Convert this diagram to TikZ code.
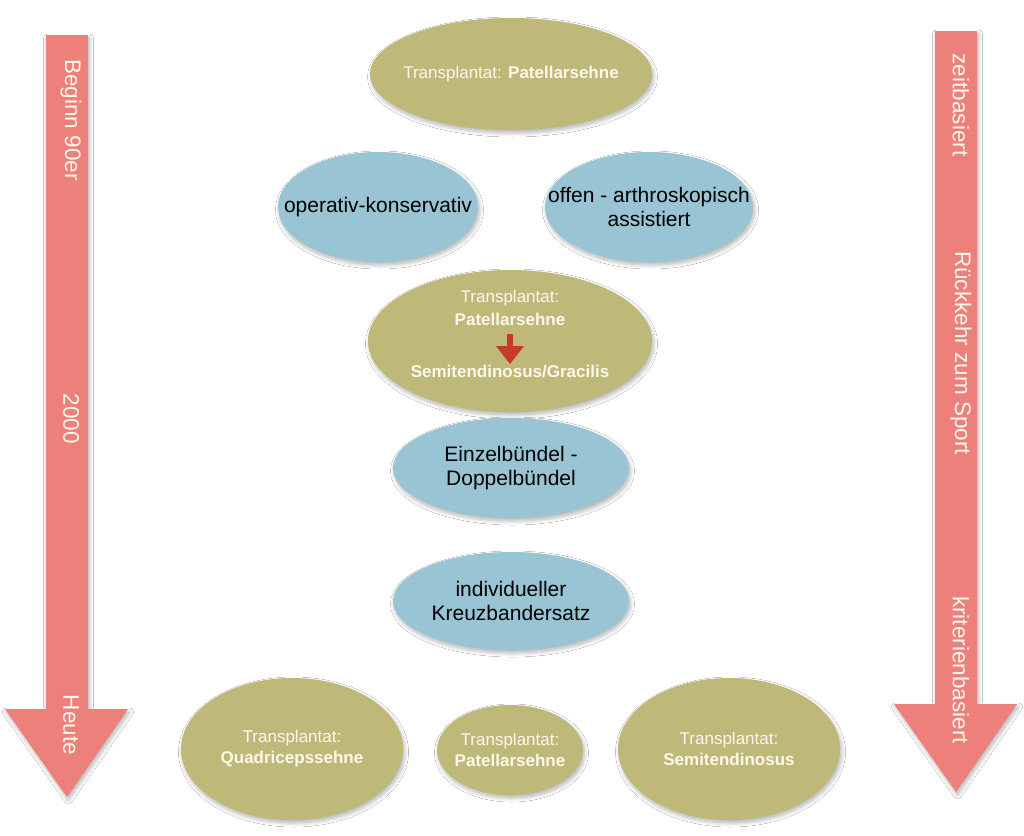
\documentclass[tikz,border=0pt]{standalone}
\usepackage{fontspec}
\setmainfont{Liberation Sans}
\usetikzlibrary{shapes.geometric,shadows.blur}
\definecolor{olive}{RGB}{190,185,121}
\definecolor{lblue}{RGB}{152,196,212}
\definecolor{pinkred}{RGB}{237,128,122}
\definecolor{darkred}{RGB}{196,58,44}
\definecolor{cream}{RGB}{252,248,236}
\tikzset{
  softshadow/.style={blur shadow={shadow xshift=1.5pt, shadow yshift=-3pt, shadow blur steps=8, shadow blur radius=4pt, shadow opacity=30}},
  oval/.style={ellipse, inner sep=0pt, softshadow},
  olivebox/.style={oval, fill=olive},
  bluebox/.style={oval, fill=lblue},
  oltext/.style={text=cream, font=\fontsize{17}{21}\selectfont, inner sep=0pt, align=center},
  bltext/.style={text=black, font=\fontsize{21}{24}\selectfont, inner sep=0pt, align=center},
  bigarrow/.style={fill=pinkred, softshadow},
  arrowtext/.style={rotate=-90, text=cream, font=\fontsize{22.5}{26}\selectfont, inner sep=0pt}
}
\begin{document}
\begin{tikzpicture}[x=1pt,y=-1pt]
\useasboundingbox (0,0) rectangle (1024,835);
\fill[white] (0,0) rectangle (1024,835);

% big arrows
\draw[bigarrow, draw=none] (46,35) -- (88,35) -- (88,709) -- (128,709) -- (67,797) -- (5,709) -- (46,709) -- cycle;
\draw[bigarrow, draw=none] (935,31) -- (977,31) -- (977,704) -- (1017,704) -- (956,792) -- (894,704) -- (935,704) -- cycle;

\node[arrowtext] (l1) at (71,120) {Beginn 90er};
\node[arrowtext] (l2) at (71,419) {2000};
\node[arrowtext] (l3) at (71,725) {Heute};
\node[arrowtext] (r1) at (961,105) {zeitbasiert};
\node[arrowtext] (r2) at (961,353) {Rückkehr zum Sport};
\node[arrowtext] (r3) at (961,670) {kriterienbasiert};

% ellipses
\node[olivebox, minimum width=282pt, minimum height=112pt] (top) at (511,74) {};
\node[oltext] (topt) at (top.center) {Transplantat: \textbf{Patellarsehne}};

\node[bluebox, minimum width=200pt, minimum height=110pt] (opk) at (378,207) {};
\node[bltext] (opkt) at (opk.center) {operativ-konservativ};

\node[bluebox, minimum width=208pt, minimum height=110pt] (off) at (649,207) {};
\node[bltext] (offt) at (off.center) {offen - arthroskopisch\\assistiert};

\node[olivebox, minimum width=284pt, minimum height=142pt] (mid) at (510,341) {};
\node[oltext] (m1) at (510,298) {Transplantat:};
\node[oltext] (m2) at (510,319) {\textbf{Patellarsehne}};
\node[oltext] (m3) at (510,372) {\textbf{Semitendinosus/Gracilis}};
\fill[darkred] (507,334) rectangle (513,347);
\fill[darkred] (496,346) -- (524,346) -- (510,364) -- cycle;

\node[bluebox, minimum width=236pt, minimum height=100pt] (ein) at (511,468) {};
\node[bltext] (eint) at (ein.center) {Einzelbündel -\\Doppelbündel};

\node[bluebox, minimum width=236pt, minimum height=98pt] (ind) at (511,601) {};
\node[bltext] (indt) at (ind.center) {individueller\\Kreuzbandersatz};

\node[olivebox, minimum width=222pt, minimum height=142pt] (bl) at (292,749) {};
\node[oltext] (blt) at (bl.center) {Transplantat:\\\textbf{Quadricepssehne}};

\node[olivebox, minimum width=146pt, minimum height=90pt] (bm) at (510,750) {};
\node[oltext] (bmt) at (bm.center) {Transplantat:\\\textbf{Patellarsehne}};

\node[olivebox, minimum width=222pt, minimum height=142pt] (br) at (729,749) {};
\node[oltext] (brt) at (br.center) {Transplantat:\\\textbf{Semitendinosus}};
\end{tikzpicture}
\end{document}
